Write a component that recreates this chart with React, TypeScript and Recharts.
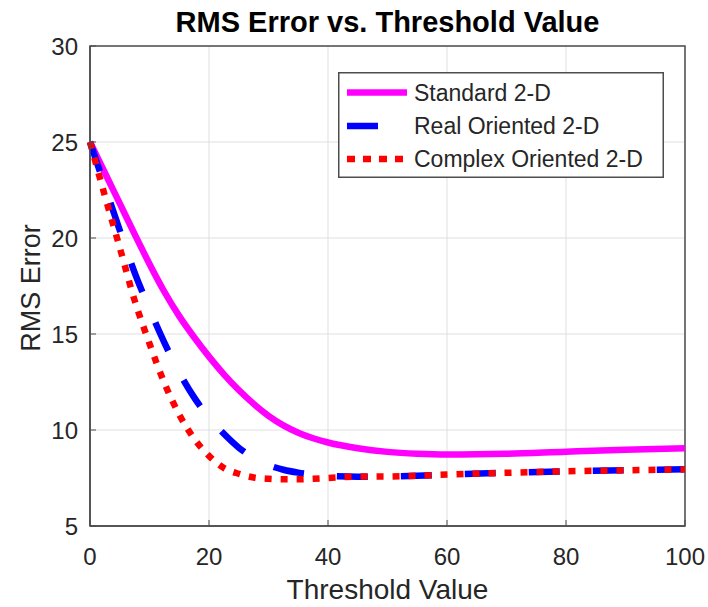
import { LineChart, Line, XAxis, YAxis, CartesianGrid, Legend, ReferenceArea } from "recharts"

// threshold values (x) and RMS error per transform
const thresholds = [0, 2.5, 5, 7.5, 10, 12.5, 15, 17.5, 20, 22.5, 25, 27.5, 30, 32.5, 35, 37.5, 40, 45, 50, 55, 60, 70, 80, 90, 100]
const standard2D = [25, 23.4, 21.8, 20.2, 18.65, 17.2, 15.93, 14.83, 13.82, 12.9, 12.08, 11.36, 10.74, 10.24, 9.86, 9.57, 9.35, 9.05, 8.86, 8.76, 8.72, 8.76, 8.87, 8.97, 9.05]
const realOriented2D = [25, 22.7, 20.4, 18.2, 16.3, 14.55, 13.0, 11.7, 10.65, 9.8, 9.08, 8.55, 8.17, 7.93, 7.78, 7.68, 7.62, 7.57, 7.58, 7.62, 7.68, 7.77, 7.85, 7.9, 7.95]
const complexOriented2D = [25, 22.2, 19.5, 16.75, 14.5, 12.45, 10.8, 9.55, 8.65, 8.02, 7.72, 7.53, 7.46, 7.43, 7.43, 7.46, 7.5, 7.57, 7.58, 7.62, 7.68, 7.77, 7.85, 7.9, 7.95]

const xTicks = [0, 20, 40, 60, 80, 100]
const yTicks = [5, 10, 15, 20, 25, 30]

const FONT = '"Liberation Sans", Arial, Helvetica, sans-serif'
const INK = "#262626"
const AXIS = "#4d4d4d"

const data = thresholds.map((t, i) => ({
  t,
  standard: standard2D[i],
  real: realOriented2D[i],
  complex: complexOriented2D[i],
}))

const series = [
  { key: "standard", name: "Standard 2-D", color: "#ff00ff", dash: undefined as string | undefined, legendEnd: 69, legendDash: undefined as string | undefined },
  { key: "real", name: "Real Oriented 2-D", color: "#0000ff", dash: "31 33", legendEnd: 40, legendDash: undefined },
  { key: "complex", name: "Complex Oriented 2-D", color: "#ff0000", dash: "7 9", legendEnd: 69, legendDash: "8 8" },
]

function LegendBox() {
  const rows = [20.5, 54, 87]
  return (
    <svg width={326} height={106} style={{ display: "block" }}>
      <rect x={0.75} y={0.75} width={324.5} height={104.5} fill="#fff" stroke={AXIS} strokeWidth={1.5} />
      {series.map((s, i) => (
        <g key={s.key}>
          <line x1={9} x2={s.legendEnd} y1={rows[i]} y2={rows[i]} stroke={s.color} strokeWidth={6.5} strokeDasharray={s.legendDash} />
          <text x={76} y={rows[i]} dy={8} fontSize={23} fill={INK} fontFamily={FONT}>
            {s.name}
          </text>
        </g>
      ))}
    </svg>
  )
}

export default function App() {
  return (
    <div style={{ position: "absolute", left: 0, top: 0, width: 708, height: 607, background: "#fff" }}>
      <LineChart width={708} height={607} data={data} margin={{ top: 46, right: 23, bottom: 0, left: 0 }}>
        <CartesianGrid stroke="#dfdfdf" strokeWidth={1} />
        <XAxis
          dataKey="t"
          type="number"
          domain={[0, 100]}
          ticks={xTicks}
          interval={0}
          height={81}
          tickSize={-6}
          tickMargin={28}
          axisLine={{ stroke: AXIS, strokeWidth: 1.5 }}
          tickLine={{ stroke: AXIS }}
          tick={{ fontSize: 24, fill: INK, fontFamily: FONT }}
          label={{ value: "Threshold Value", position: "insideBottom", offset: 8, fontSize: 28, fill: INK, fontFamily: FONT }}
        />
        <YAxis
          type="number"
          domain={[5, 30]}
          ticks={yTicks}
          interval={0}
          width={90}
          tickSize={-6}
          tickMargin={18}
          axisLine={{ stroke: AXIS, strokeWidth: 1.5 }}
          tickLine={{ stroke: AXIS }}
          tick={{ fontSize: 24, fill: INK, fontFamily: FONT }}
          label={{
            content: (props: any) => {
              const vb = props.viewBox || { x: 0, y: 46, width: 90, height: 480 }
              const cx = vb.x + 40
              const cy = vb.y + vb.height / 2 + 2
              return (
                <text x={cx} y={cy} transform={`rotate(-90 ${cx} ${cy})`} textAnchor="middle" fontSize={27} fill={INK} fontFamily={FONT}>
                  RMS Error
                </text>
              )
            },
          }}
        />
        {/* box around the axes, carries the title */}
        <ReferenceArea
          x1={0}
          x2={100}
          y1={5}
          y2={30}
          fill="none"
          stroke={AXIS}
          strokeWidth={1.5}
          label={{ value: "RMS Error vs. Threshold Value", position: "top", offset: 14, fontSize: 29, fontWeight: "bold", fill: "#000", fontFamily: FONT }}
        />
        <Legend
          layout="vertical"
          verticalAlign="middle"
          align="center"
          wrapperStyle={{ left: 338, top: 72, width: 326, height: 106 }}
          content={() => <LegendBox />}
        />
        {series.map((s) => (
          <Line
            key={s.key}
            dataKey={s.key}
            name={s.name}
            type="monotone"
            stroke={s.color}
            strokeWidth={6.5}
            strokeDasharray={s.dash}
            strokeLinejoin="round"
            dot={false}
            activeDot={false}
            isAnimationActive={false}
          />
        ))}
      </LineChart>
    </div>
  )
}
